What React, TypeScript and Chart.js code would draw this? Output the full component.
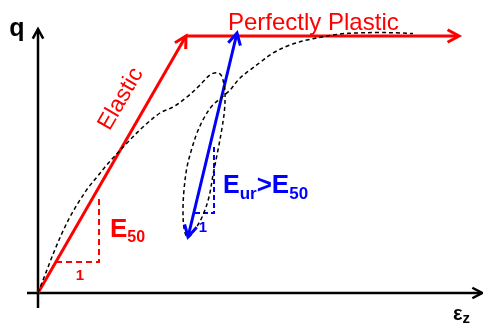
import { useEffect, useRef } from "react";
import { Chart, registerables } from "chart.js";

Chart.register(...registerables);

const W = 483;
const H = 330;

// Axis extents: strain ε_z horizontally, deviatoric stress q vertically (origin at 0,0)
const strainRange = [-38, 445];
const qRange = [-37, 293];

// Coordinate axes
const yAxisStrain = [0, 0];
const yAxisQ = [-15, 264];
const xAxisStrain = [-11, 444];
const xAxisQ = [0, 0];

// Elastic – perfectly plastic model
const elasticStrain = [0, 148];
const elasticQ = [0, 257];
const plasticStrain = [148, 421];
const plasticQ = [257, 257];

// Unloading / reloading stiffness line
const urStrain = [199, 150];
const urQ = [260, 56];

// Slope triangles
const e50TriStrain = [18, 61, 61];
const e50TriQ = [31, 31, 95];
const urTriStrain = [157, 176, 176];
const urTriQ = [80, 80, 146];

// Measured (real soil) curve with unload–reload loop
const curveStrain = [
  0, 3, 7, 12, 18, 25, 33, 42, 50, 59, 67, 75, 89, 105, 122, 135, 149, 162, 172, 179,
  183, 185.5, 187, 186.5, 184, 180, 175, 171, 165, 158, 152, 149, 146, 145,
  146, 149, 154, 159, 166, 174, 184, 192, 202, 212, 224, 235, 252, 269, 287, 302, 319,
  342, 362, 375,
];
const curveQ = [
  0, 8, 18, 31, 46, 62, 78, 93, 105, 116, 126, 135, 150, 166, 180, 186, 196, 208, 218, 220.3,
  218, 211, 201, 183, 165, 143, 118, 96, 78, 65, 57, 56, 65, 83,
  103, 126, 145, 160, 175, 187, 196, 203, 215, 223, 232, 240, 248, 253, 256.5, 259, 260,
  260.5, 260, 259.5,
];

const RED = "#ff0000";
const BLUE = "#0000ff";
const BLACK = "#000000";
const FONT = '"Liberation Sans", Arial, Helvetica, sans-serif';

const pts = (xs: number[], ys: number[]) => xs.map((x, i) => ({ x, y: ys[i] }));

type Arrow = { xs: number[]; ys: number[]; from: number; to: number; len: number; color: string; width: number };
const arrows: Arrow[] = [
  { xs: yAxisStrain, ys: yAxisQ, from: 0, to: 1, len: 11, color: BLACK, width: 2.5 },
  { xs: xAxisStrain, ys: xAxisQ, from: 0, to: 1, len: 11, color: BLACK, width: 2.5 },
  { xs: elasticStrain, ys: elasticQ, from: 0, to: 1, len: 13, color: RED, width: 3 },
  { xs: plasticStrain, ys: plasticQ, from: 0, to: 1, len: 13, color: RED, width: 3 },
  { xs: urStrain, ys: urQ, from: 1, to: 0, len: 13, color: BLUE, width: 3 },
  { xs: urStrain, ys: urQ, from: 0, to: 1, len: 13, color: BLUE, width: 3 },
];

type Run = { text: string; size: number; dy?: number; bold?: boolean };
type Label = { x: number; y: number; color: string; runs: Run[]; rotate?: number; align?: CanvasTextAlign; baseline?: CanvasTextBaseline };
const labels: Label[] = [
  { x: 190, y: 263, color: RED, runs: [{ text: "Perfectly Plastic", size: 24 }] },
  { x: 83, y: 194, color: RED, runs: [{ text: "Elastic", size: 23 }], rotate: -60, align: "center", baseline: "middle" },
  { x: -21, y: 257, color: BLACK, runs: [{ text: "q", size: 25, bold: true }], align: "center" },
  { x: 415, y: -27, color: BLACK, runs: [{ text: "ε", size: 20, bold: true }, { text: "z", size: 15, bold: true, dy: 3 }] },
  { x: 72, y: 56, color: RED, runs: [{ text: "E", size: 26, bold: true }, { text: "50", size: 16, bold: true, dy: 5 }] },
  { x: 42, y: 17, color: RED, runs: [{ text: "1", size: 15, bold: true }], align: "center", baseline: "middle" },
  { x: 165, y: 65, color: BLUE, runs: [{ text: "1", size: 15, bold: true }], align: "center", baseline: "middle" },
  {
    x: 185,
    y: 100,
    color: BLUE,
    runs: [
      { text: "E", size: 25, bold: true },
      { text: "ur", size: 17, bold: true, dy: 6 },
      { text: ">E", size: 26, bold: true },
      { text: "50", size: 17, bold: true, dy: 6 },
    ],
  },
];

const decorPlugin = {
  id: "decor",
  afterDatasetsDraw(chart: any) {
    const ctx: CanvasRenderingContext2D = chart.ctx;
    const sx = chart.scales.x;
    const sy = chart.scales.y;
    for (const a of arrows) {
      const x1 = sx.getPixelForValue(a.xs[a.from]);
      const y1 = sy.getPixelForValue(a.ys[a.from]);
      const x2 = sx.getPixelForValue(a.xs[a.to]);
      const y2 = sy.getPixelForValue(a.ys[a.to]);
      const ang = Math.atan2(y2 - y1, x2 - x1);
      const h = Math.PI / 6.3;
      ctx.save();
      ctx.strokeStyle = a.color;
      ctx.lineWidth = a.width;
      ctx.lineCap = "butt";
      ctx.lineJoin = "miter";
      ctx.beginPath();
      ctx.moveTo(x2 - a.len * Math.cos(ang - h), y2 - a.len * Math.sin(ang - h));
      ctx.lineTo(x2, y2);
      ctx.lineTo(x2 - a.len * Math.cos(ang + h), y2 - a.len * Math.sin(ang + h));
      ctx.stroke();
      ctx.restore();
    }
    for (const l of labels) {
      const px = sx.getPixelForValue(l.x);
      const py = sy.getPixelForValue(l.y);
      ctx.save();
      ctx.fillStyle = l.color;
      ctx.translate(px, py);
      if (l.rotate) ctx.rotate((l.rotate * Math.PI) / 180);
      ctx.textBaseline = l.baseline || "alphabetic";
      if (l.runs.length === 1) {
        const r = l.runs[0];
        ctx.font = `${r.bold ? "bold " : ""}${r.size}px ${FONT}`;
        ctx.textAlign = l.align || "left";
        ctx.fillText(r.text, 0, r.dy || 0);
      } else {
        ctx.textAlign = "left";
        let cx = 0;
        for (const r of l.runs) {
          ctx.font = `${r.bold ? "bold " : ""}${r.size}px ${FONT}`;
          ctx.fillText(r.text, cx, r.dy || 0);
          cx += ctx.measureText(r.text).width;
        }
      }
      ctx.restore();
    }
  },
};

export default function App() {
  const ref = useRef<HTMLCanvasElement | null>(null);
  useEffect(() => {
    if (!ref.current) return;
    const line = (xs: number[], ys: number[], color: string, width: number, dash: number[] = [], tension = 0) => ({
      data: pts(xs, ys),
      showLine: true,
      borderColor: color,
      backgroundColor: color,
      borderWidth: width,
      borderDash: dash,
      pointRadius: 0,
      tension,
      fill: false,
    });
    const chart = new Chart(ref.current, {
      type: "scatter",
      data: {
        datasets: [
          line(curveStrain, curveQ, BLACK, 1.5, [4, 3], 0.35),
          line(urStrain, urQ, BLUE, 3),
          line(urTriStrain, urTriQ, BLUE, 2, [5, 3]),
          line(elasticStrain, elasticQ, RED, 3),
          line(plasticStrain, plasticQ, RED, 3),
          line(e50TriStrain, e50TriQ, RED, 2, [6, 4]),
          line(yAxisStrain, yAxisQ, BLACK, 2.5),
          line(xAxisStrain, xAxisQ, BLACK, 2.5),
        ] as any,
      },
      options: {
        animation: false,
        responsive: false,
        events: [],
        layout: { padding: 0 },
        plugins: { legend: { display: false }, tooltip: { enabled: false } },
        scales: {
          x: { type: "linear", min: strainRange[0], max: strainRange[1], display: false },
          y: { type: "linear", min: qRange[0], max: qRange[1], display: false },
        },
      },
      plugins: [decorPlugin],
    });
    return () => chart.destroy();
  }, []);
  return (
    <div style={{ position: "absolute", left: 0, top: 0, width: W, height: H, background: "#fff" }}>
      <canvas ref={ref} width={W} height={H} style={{ width: W, height: H, display: "block" }} />
    </div>
  );
}
